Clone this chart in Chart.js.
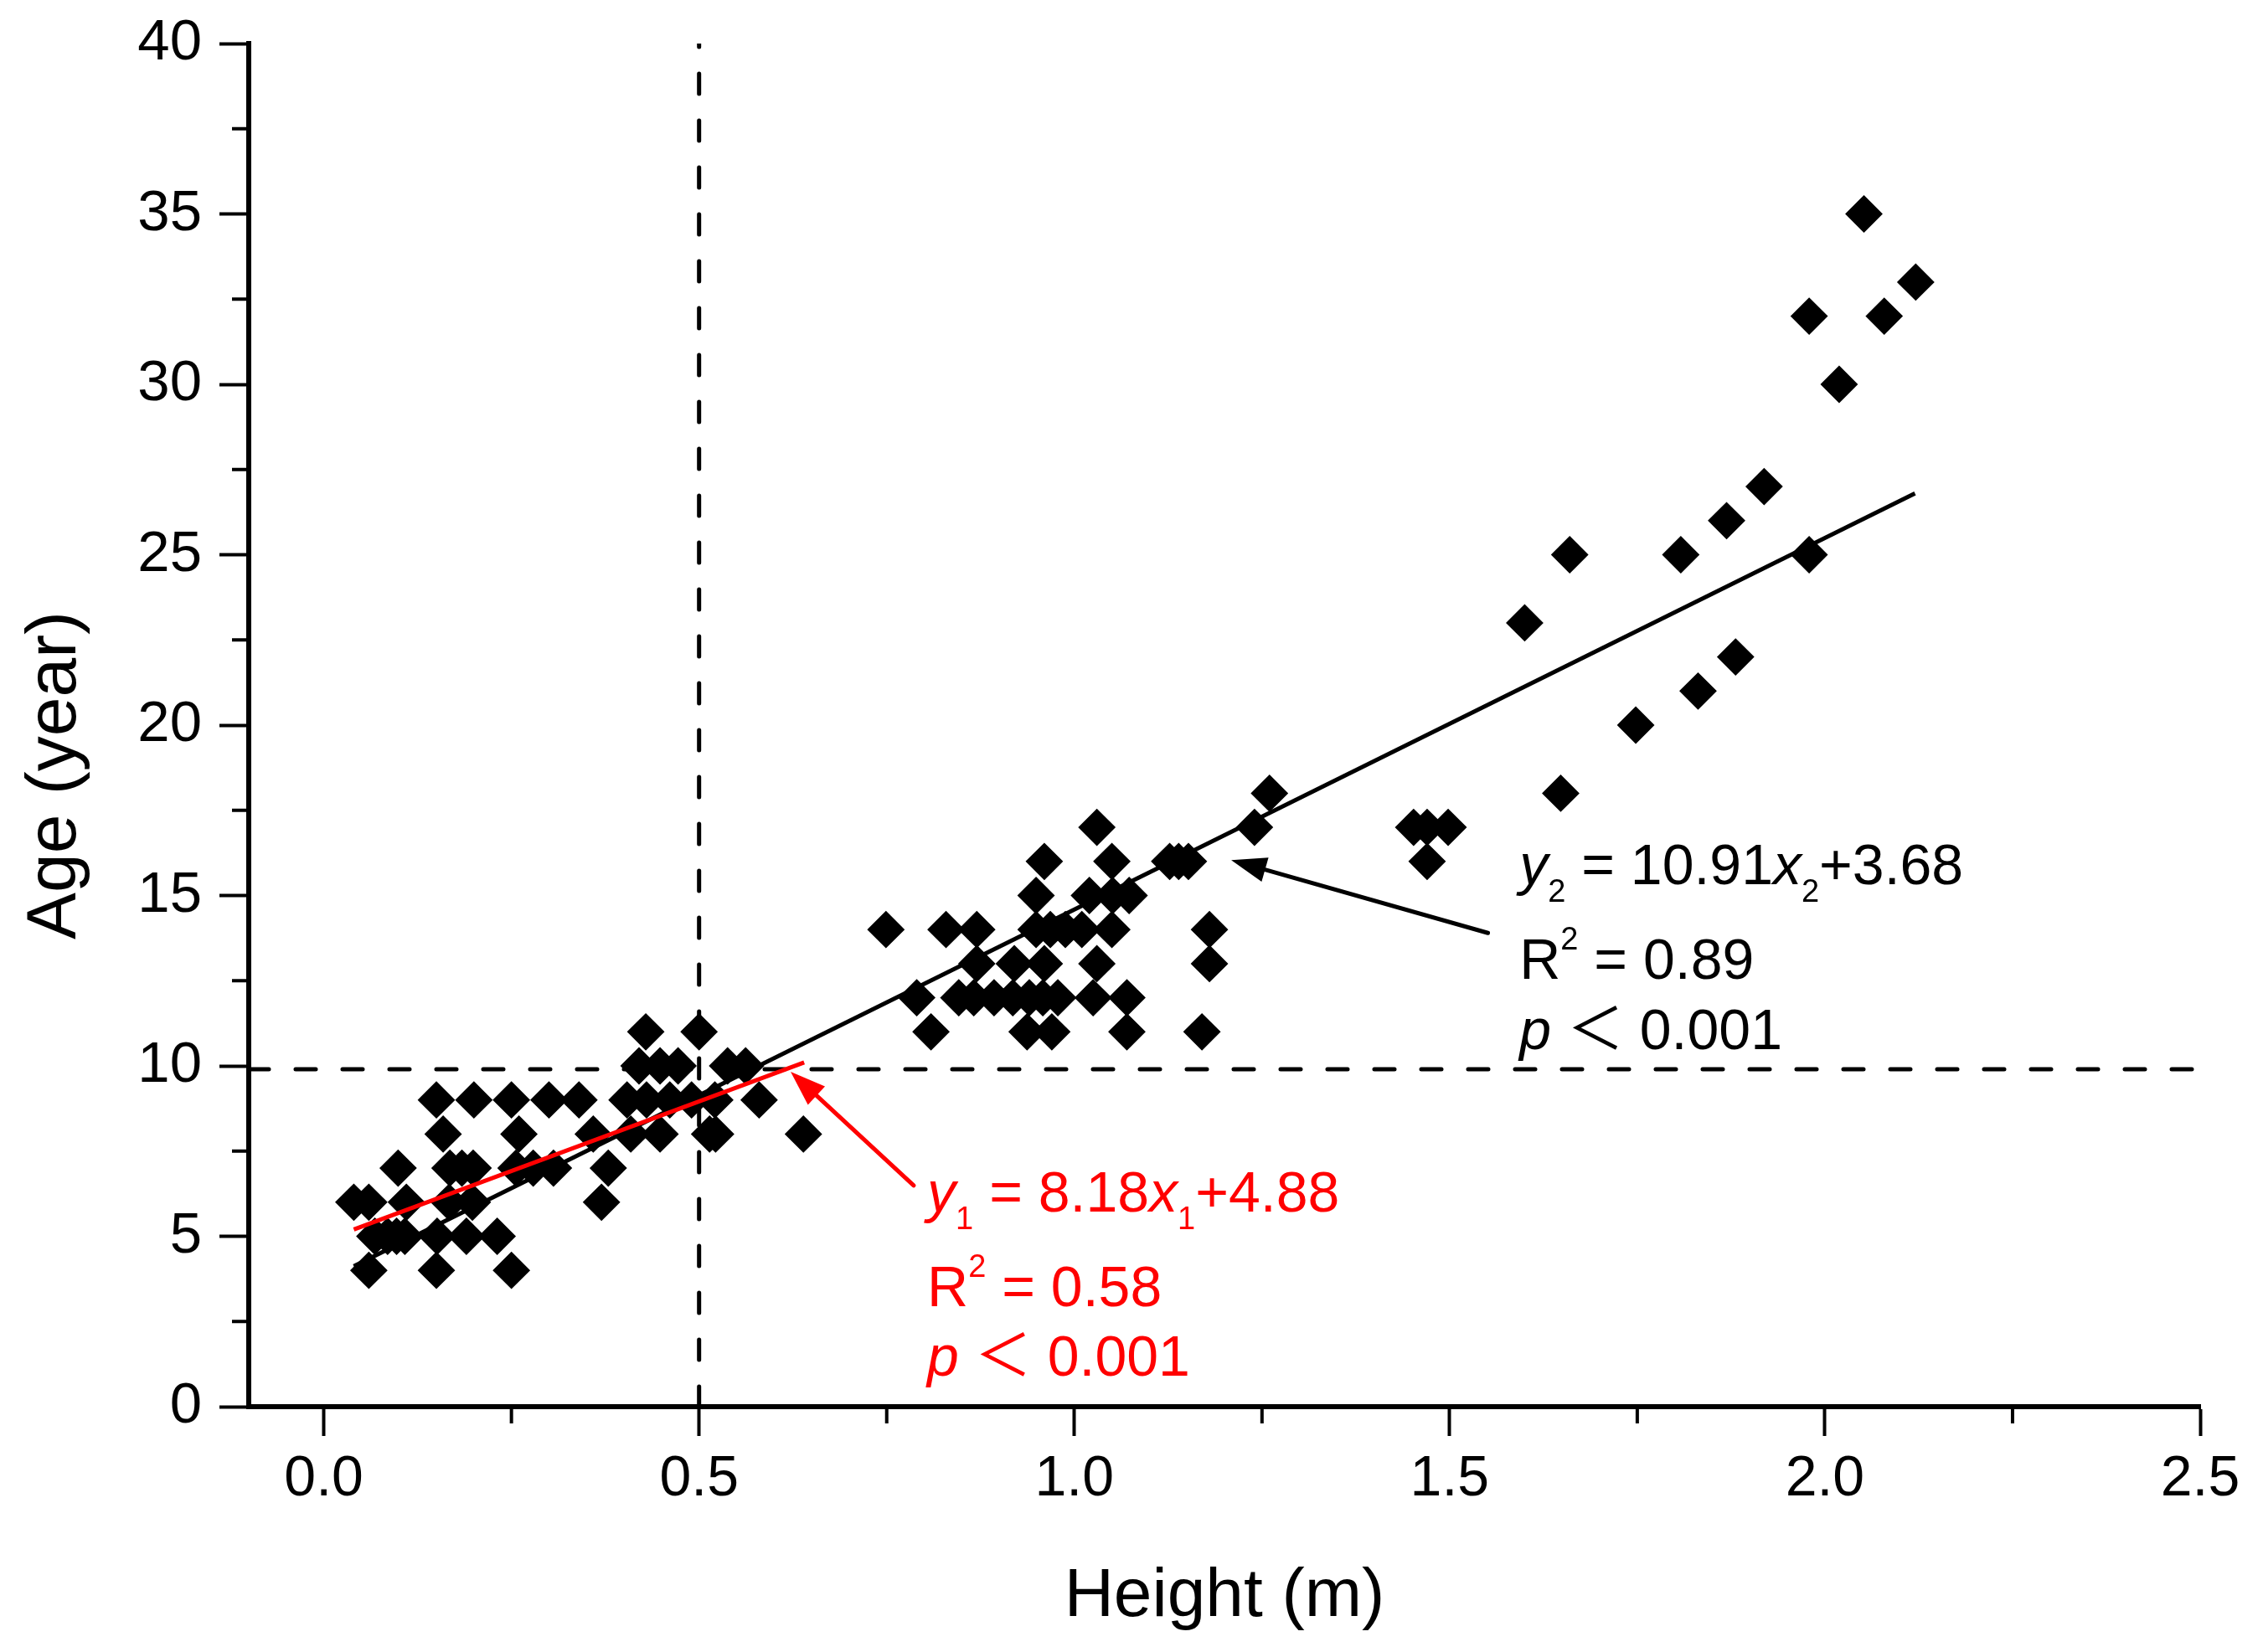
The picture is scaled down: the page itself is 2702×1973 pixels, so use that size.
<!DOCTYPE html>
<html>
<head>
<meta charset="utf-8">
<title>Age vs Height</title>
<script src="https://cdn.jsdelivr.net/npm/chart.js@4.4.1/dist/chart.umd.min.js"></script>
<style>
  html, body { margin: 0; padding: 0; background: #fff; overflow: hidden; }
  canvas { display: block; }
</style>
</head>
<body>
<canvas id="chart" width="2702" height="1973" style="width:2702px;height:1973px"></canvas>
<script>
// sample heights (m) and ages (year), grouped by age row
const heights = [
  0.06, 0.15, 0.25,
  0.068, 0.085, 0.097, 0.108, 0.151, 0.19, 0.231,
  0.04, 0.06, 0.11, 0.167, 0.198, 0.37,
  0.099, 0.168, 0.184, 0.199, 0.256, 0.279, 0.306, 0.379,
  0.159, 0.26, 0.359, 0.409, 0.448, 0.514, 0.522, 0.639,
  0.15, 0.2, 0.25, 0.3, 0.34, 0.404, 0.43, 0.461, 0.49, 0.521, 0.58,
  0.42, 0.448, 0.472, 0.538, 0.562,
  0.429, 0.5, 0.809, 0.937, 0.97, 1.07, 1.17,
  0.79, 0.846, 0.866, 0.893, 0.918, 0.94, 0.958, 0.978, 1.025, 1.07,
  0.87, 0.92, 0.96, 1.03, 1.18,
  0.749, 0.829, 0.87, 0.949, 0.968, 0.988, 1.01, 1.05, 1.18,
  0.949, 1.02, 1.051, 1.073,
  0.96, 1.05, 1.127, 1.139, 1.152, 1.47,
  1.03, 1.24, 1.452, 1.47, 1.498,
  1.26, 1.648,
  1.748, 1.831, 1.881, 1.6,
  1.66, 1.808, 1.979,
  1.869, 1.919, 2.019,
  1.979, 2.079, 2.121, 2.052
];
const ages = [
  4, 4, 4,
  5, 5, 5, 5, 5, 5, 5,
  6, 6, 6, 6, 6, 6,
  7, 7, 7, 7, 7, 7, 7, 7,
  8, 8, 8, 8, 8, 8, 8, 8,
  9, 9, 9, 9, 9, 9, 9, 9, 9, 9, 9,
  10, 10, 10, 10, 10,
  11, 11, 11, 11, 11, 11, 11,
  12, 12, 12, 12, 12, 12, 12, 12, 12, 12,
  13, 13, 13, 13, 13,
  14, 14, 14, 14, 14, 14, 14, 14, 14,
  15, 15, 15, 15,
  16, 16, 16, 16, 16, 16,
  17, 17, 17, 17, 17,
  18, 18,
  20, 21, 22, 23,
  25, 25, 25,
  26, 27, 30,
  32, 32, 33, 35
];

// fitted lines, end points
const fitAll = [{ x: 0.04, y: 4.12 }, { x: 2.12, y: 26.8 }];
const fitLow = [{ x: 0.04, y: 5.2 }, { x: 0.64, y: 10.1 }];
// dashed guides
const guideH = [{ x: -0.1, y: 9.9 }, { x: 2.5, y: 9.9 }];
const guideV = [{ x: 0.5, y: 0 }, { x: 0.5, y: 40 }];

const xTicks = [0, 0.5, 1, 1.5, 2, 2.5];
const xMinor = [0.25, 0.75, 1.25, 1.75, 2.25];
const yTicks = [0, 5, 10, 15, 20, 25, 30, 35, 40];
const yMinor = [2.5, 7.5, 12.5, 17.5, 22.5, 27.5, 32.5, 37.5];

// annotation text
const redLines = [
  [{ t: 'y', it: 1 }, { t: '1', sub: 1 }, { t: ' = 8.18' }, { t: 'x', it: 1 }, { t: '1', sub: 1 }, { t: '+4.88' }],
  [{ t: 'R' }, { t: '2', sup: 1 }, { t: ' = 0.58' }],
  [{ t: 'p', it: 1 }, { t: ' \uFF1C ' }, { t: '0.001' }]
];
const blackLines = [
  [{ t: 'y', it: 1 }, { t: '2', sub: 1 }, { t: ' = 10.91' }, { t: 'x', it: 1 }, { t: '2', sub: 1 }, { t: '+3.68' }],
  [{ t: 'R' }, { t: '2', sup: 1 }, { t: ' = 0.89' }],
  [{ t: 'p', it: 1 }, { t: ' \uFF1C ' }, { t: '0.001' }]
];
// anchors in data units: left x, baselines y
const redAnchor = { x: 0.804, y: [5.72, 2.95, 0.91] };
const blackAnchor = { x: 1.593, y: [15.33, 12.56, 10.49] };
const redArrow = { from: { x: 0.786, y: 6.49 }, to: { x: 0.622, y: 9.83 } };
const blackArrow = { from: { x: 1.551, y: 13.9 }, to: { x: 1.209, y: 16.04 } };

const FONT = "'Liberation Sans', Arial, 'Noto Sans CJK SC', sans-serif";

function richText(ctx, parts, x, y, size, color) {
  let cx = x;
  ctx.fillStyle = color;
  ctx.textAlign = 'left';
  ctx.textBaseline = 'alphabetic';
  for (const p of parts) {
    const fs = (p.sub || p.sup) ? Math.round(size * 0.56) : size;
    ctx.font = (p.it ? 'italic ' : '') + fs + 'px ' + FONT;
    const dy = p.sub ? size * 0.31 : (p.sup ? -size * 0.51 : 0);
    ctx.fillText(p.t, cx, y + dy);
    cx += ctx.measureText(p.t).width;
  }
}

function arrow(ctx, x1, y1, x2, y2, color, w) {
  const ang = Math.atan2(y2 - y1, x2 - x1);
  const head = 42, half = 15;
  const bx = x2 - head * Math.cos(ang), by = y2 - head * Math.sin(ang);
  ctx.strokeStyle = color;
  ctx.fillStyle = color;
  ctx.lineWidth = w;
  ctx.lineCap = 'round';
  ctx.beginPath();
  ctx.moveTo(x1, y1);
  ctx.lineTo(bx, by);
  ctx.stroke();
  ctx.beginPath();
  ctx.moveTo(x2, y2);
  ctx.lineTo(bx + half * Math.sin(ang), by - half * Math.cos(ang));
  ctx.lineTo(bx - half * Math.sin(ang), by + half * Math.cos(ang));
  ctx.closePath();
  ctx.fill();
}

const extras = {
  id: 'extras',
  afterDraw(chart) {
    const ctx = chart.ctx;
    const xs = chart.scales.x, ys = chart.scales.y;
    const area = chart.chartArea;
    ctx.save();

    // minor ticks
    ctx.strokeStyle = '#000';
    ctx.lineWidth = 4;
    ctx.lineCap = 'butt';
    ctx.beginPath();
    xMinor.forEach(v => {
      const px = xs.getPixelForValue(v);
      ctx.moveTo(px, area.bottom);
      ctx.lineTo(px, area.bottom + 20);
    });
    yMinor.forEach(v => {
      const py = ys.getPixelForValue(v);
      ctx.moveTo(area.left, py);
      ctx.lineTo(area.left - 20, py);
    });
    ctx.stroke();

    // arrows
    arrow(ctx, xs.getPixelForValue(redArrow.from.x), ys.getPixelForValue(redArrow.from.y),
      xs.getPixelForValue(redArrow.to.x), ys.getPixelForValue(redArrow.to.y), '#ff0000', 5);
    arrow(ctx, xs.getPixelForValue(blackArrow.from.x), ys.getPixelForValue(blackArrow.from.y),
      xs.getPixelForValue(blackArrow.to.x), ys.getPixelForValue(blackArrow.to.y), '#000', 5);

    // fit equations
    redLines.forEach((ln, i) => richText(ctx, ln, xs.getPixelForValue(redAnchor.x), ys.getPixelForValue(redAnchor.y[i]), 68, '#ff0000'));
    blackLines.forEach((ln, i) => richText(ctx, ln, xs.getPixelForValue(blackAnchor.x), ys.getPixelForValue(blackAnchor.y[i]), 68, '#000'));

    // axis titles
    ctx.fillStyle = '#000';
    ctx.font = '82px ' + FONT;
    ctx.textAlign = 'center';
    ctx.textBaseline = 'alphabetic';
    ctx.fillText('Height (m)', (area.left + area.right) / 2, 1930);
    ctx.translate(90, 926);
    ctx.rotate(-Math.PI / 2);
    ctx.font = '84px ' + FONT;
    ctx.fillText('Age (year)', 0, 0);
    ctx.restore();
  }
};

const points = heights.map((h, i) => ({ x: h, y: ages[i] }));

new Chart(document.getElementById('chart').getContext('2d'), {
  type: 'scatter',
  data: {
    datasets: [
      { label: 'Samples', data: points, pointStyle: 'rectRot', pointRadius: 21,
        backgroundColor: '#000', borderColor: '#000', borderWidth: 2, order: 5 },
      { label: 'Fit all', data: fitAll, showLine: true, pointRadius: 0,
        borderColor: '#000', borderWidth: 5, order: 2 },
      { label: 'Fit low', data: fitLow, showLine: true, pointRadius: 0,
        borderColor: '#ff0000', borderWidth: 5, order: 1 },
      { label: 'Guide H', data: guideH, showLine: true, pointRadius: 0,
        borderColor: '#000', borderWidth: 5, borderDash: [24, 32], borderCapStyle: 'round', order: 3 },
      { label: 'Guide V', data: guideV, showLine: true, pointRadius: 0,
        borderColor: '#000', borderWidth: 5, borderDash: [24, 32], borderCapStyle: 'round', order: 3 }
    ]
  },
  options: {
    responsive: false,
    animation: false,
    devicePixelRatio: 1,
    layout: { padding: { top: 52, right: 75, left: 0, bottom: 0 } },
    plugins: { legend: { display: false }, tooltip: { enabled: false } },
    scales: {
      x: {
        type: 'linear', min: -0.1, max: 2.5,
        afterFit: s => { s.height = 293; s.paddingLeft = 0; s.paddingRight = 0; },
        afterBuildTicks: s => { s.ticks = xTicks.map(v => ({ value: v })); },
        grid: { drawOnChartArea: false, drawTicks: true, tickLength: 35, tickWidth: 4, tickColor: '#000' },
        border: { display: true, color: '#000', width: 6 },
        ticks: { font: { family: FONT, size: 68 }, color: '#000', padding: 11, maxRotation: 0, autoSkip: false,
          callback: v => Number(v).toFixed(1) }
      },
      y: {
        type: 'linear', min: 0, max: 40,
        afterFit: s => { s.width = 297; s.paddingTop = 0; s.paddingBottom = 0; },
        afterBuildTicks: s => { s.ticks = yTicks.map(v => ({ value: v })); },
        grid: { drawOnChartArea: false, drawTicks: true, tickLength: 35, tickWidth: 4, tickColor: '#000' },
        border: { display: true, color: '#000', width: 6 },
        ticks: { font: { family: FONT, size: 69 }, color: '#000', padding: 21, autoSkip: false,
          callback: v => String(v) }
      }
    }
  },
  plugins: [extras]
});
</script>
</body>
</html>
